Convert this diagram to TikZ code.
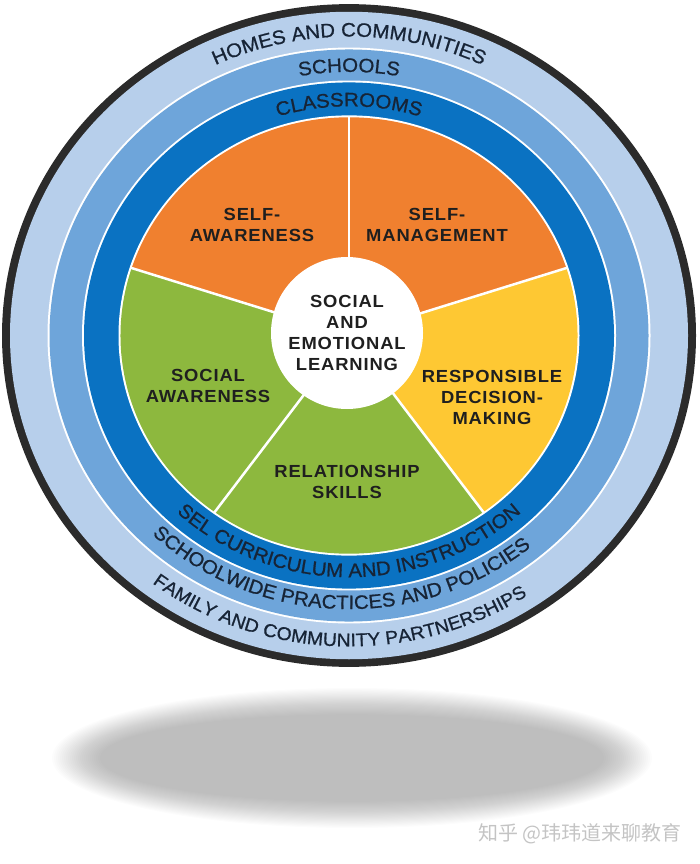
\documentclass[tikz,border=0pt]{standalone}
\usepackage{fontspec}
\setmainfont{Liberation Sans}
\newfontfamily\ringfontfam{Liberation Sans}[FakeStretch=1.05,FakeBold=0.8]
\newfontfamily\labfontfam{Liberation Sans}[FakeStretch=1.05,LetterSpace=5]
\newfontfamily\cjkfontfam{Noto Sans CJK SC}
\usetikzlibrary{decorations.text}
\definecolor{ringblack}{HTML}{2B2B2B}
\definecolor{ringlight}{HTML}{B7CFEB}
\definecolor{ringmid}{HTML}{6EA5DA}
\definecolor{ringdark}{HTML}{0A72C2}
\definecolor{selorange}{HTML}{F0802F}
\definecolor{selgreen}{HTML}{8DB83E}
\definecolor{selyellow}{HTML}{FEC833}
\definecolor{ringtext}{HTML}{172436}
\definecolor{labtext}{HTML}{1F1F1F}
\definecolor{wmgray}{HTML}{C4C4C4}
\newcommand\ringtxt{\ringfontfam\fontsize{19.5}{20}\selectfont}
\newcommand\ringtxtsm{\ringfontfam\fontsize{18.5}{20}\selectfont}
\tikzset{
  lab/.style={align=center, text=labtext, inner sep=0pt,
    font=\labfontfam\bfseries\fontsize{17.5}{21}\selectfont},
  toptext/.style={decorate, decoration={text along path, text align=center,
    text color=ringtext, text={|\ringtxt|#1}}},
  smtext/.style={decorate, decoration={text along path, text align=center,
    text color=ringtext, text={|\ringtxtsm|#1}}},
  spoke/.style={white, line width=2.5pt}
}
\begin{document}
\begin{tikzpicture}[x=1pt,y=1pt]
\useasboundingbox (0,0) rectangle (700,-864);
% shadow
\foreach \i in {0,...,24}{
  \fill[black, opacity=0.01] (352,-758) ellipse [x radius={300-2*\i}, y radius={70-1.1*\i}];
}
\begin{scope}[shift={(349,-335.5)}, yscale=0.955]
  \fill[ringblack] (0,0) circle[radius=347];
  \fill[ringlight] (0,0) circle[radius=339];
  \fill[white] (0,0) circle[radius=301.5];
  \fill[ringmid] (0,0) circle[radius=299.5];
  \fill[white] (0,0) circle[radius=267];
  \fill[ringdark] (0,0) circle[radius=265];
  \fill[white] (0,0) circle[radius=230.5];
  \fill[selorange] (0,0) -- (90:228.5) arc[start angle=90,end angle=162,radius=228.5] -- cycle;
  \fill[selorange] (0,0) -- (18:228.5) arc[start angle=18,end angle=90,radius=228.5] -- cycle;
  \fill[selyellow] (0,0) -- (-54:228.5) arc[start angle=-54,end angle=18,radius=228.5] -- cycle;
  \fill[selgreen] (0,0) -- (-126:228.5) arc[start angle=-126,end angle=-54,radius=228.5] -- cycle;
  \fill[selgreen] (0,0) -- (162:228.5) arc[start angle=162,end angle=234,radius=228.5] -- cycle;
  \foreach \a in {18,90,162,234,306}{
    \draw[spoke] (0,0) -- (\a:229.5);
  }
  % ring texts, top
  \path[toptext={HOMES AND COMMUNITIES}] (150:313) arc[start angle=150,end angle=30,radius=313];
  \path[toptext={SCHOOLS}] (150:276) arc[start angle=150,end angle=30,radius=276];
  \path[toptext={CLASSROOMS}] (150:240) arc[start angle=150,end angle=30,radius=240];
  % ring texts, bottom
  \path[toptext={SEL CURRICULUM AND INSTRUCTION}] (195:253) arc[start angle=195,end angle=345,radius=253];
  \path[toptext={SCHOOLWIDE PRACTICES AND POLICIES}] (193:286.5) arc[start angle=193,end angle=343,radius=286.5];
  \path[smtext={FAMILY AND COMMUNITY PARTNERSHIPS}] (196:325.5) arc[start angle=196,end angle=340,radius=325.5];
\end{scope}
\node[lab, circle, fill=white, minimum size=152pt] (sel) at (347,-333) {SOCIAL\\AND\\EMOTIONAL\\LEARNING};
\node[lab] (selfaw) at (252,-225) {SELF-\\AWARENESS};
\node[lab] (selfmg) at (437,-225) {SELF-\\MANAGEMENT};
\node[lab] (socaw) at (208,-386) {SOCIAL\\AWARENESS};
\node[lab] (resp) at (492,-397) {RESPONSIBLE\\DECISION-\\MAKING};
\node[lab] (rel) at (347,-482) {RELATIONSHIP\\SKILLS};
\node[anchor=east, text=wmgray, inner sep=0pt, font=\cjkfontfam\fontsize{20}{22}\selectfont] (wm) at (682,-834) {知乎 @玮玮道来聊教育};
\end{tikzpicture}
\end{document}
